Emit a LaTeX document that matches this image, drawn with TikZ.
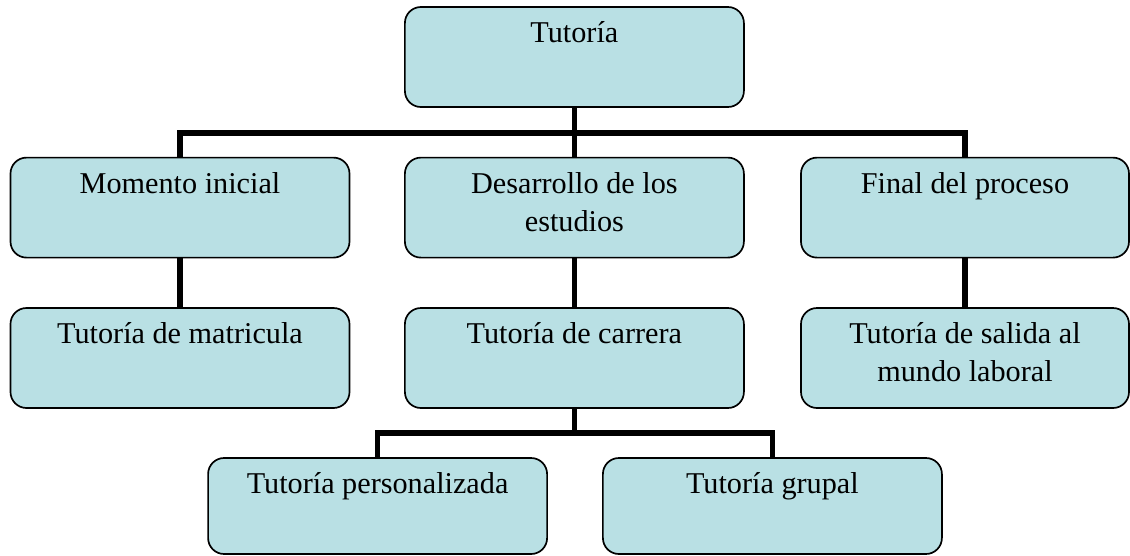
\documentclass[tikz,border=0pt]{standalone}
\usepackage{fontspec}
\setmainfont{Liberation Serif}
\usetikzlibrary{positioning}
\definecolor{boxfill}{RGB}{185,224,228}
\tikzset{box/.style = {draw, line width=1.2pt, rounded corners=0.4cm, fill=boxfill, minimum width=8.475cm, minimum height=2.5cm}}
\tikzset{narrowbox/.style = {box, minimum width=8.2cm}}
\tikzset{lowbox/.style = {box, minimum height=2.4cm}}
\tikzset{txt/.style = {inner sep=0pt, align=center, font=\fontsize{21.5}{27}\selectfont}}
\tikzset{link/.style = {line width=4pt}}

\begin{document}
\begin{tikzpicture}
	\useasboundingbox (0,0) rectangle (28.25,-13.875);
	% boxes
	\node [box] (tut) at (14.36,-1.425) {};
	\node [box] (mom) at (4.5,-5.19) {};
	\node [box] (des) at (14.36,-5.19) {};
	\node [narrowbox] (fin) at (24.125,-5.19) {};
	\node [box] (mat) at (4.5,-8.95) {};
	\node [box] (car) at (14.36,-8.95) {};
	\node [narrowbox] (sal) at (24.125,-8.95) {};
	\node [lowbox] (per) at (9.44,-12.65) {};
	\node [lowbox] (gru) at (19.31,-12.65) {};
	% texts
	\node [txt, below=0.38cm of tut.north] (tuttxt) {Tutoría};
	\node [txt, below=0.38cm of mom.north] (momtxt) {Momento inicial};
	\node [txt, below=0.38cm of des.north] (destxt) {Desarrollo de los\\estudios};
	\node [txt, below=0.38cm of fin.north] (fintxt) {Final del proceso};
	\node [txt, below=0.38cm of mat.north] (mattxt) {Tutoría de matricula};
	\node [txt, below=0.38cm of car.north] (cartxt) {Tutoría de carrera};
	\node [txt, below=0.38cm of sal.north] (saltxt) {Tutoría de salida al\\mundo laboral};
	\node [txt, below=0.38cm of per.north] (pertxt) {Tutoría personalizada};
	\node [txt, below=0.38cm of gru.north] (grutxt) {Tutoría grupal};
	% connectors
	\coordinate (hubtop) at (14.36,-3.325);
	\coordinate (hubcar) at (14.36,-10.825);
	\draw [link] (tut.south) -- (hubtop);
	\draw [link] (mom.north) |- (hubtop) -| (fin.north);
	\draw [link] (hubtop) -- (des.north);
	\draw [link] (mom.south) -- (mat.north);
	\draw [link] (des.south) -- (car.north);
	\draw [link] (fin.south) -- (sal.north);
	\draw [link] (car.south) -- (hubcar);
	\draw [link] (per.north) |- (hubcar) -| (gru.north);
\end{tikzpicture}
\end{document}
